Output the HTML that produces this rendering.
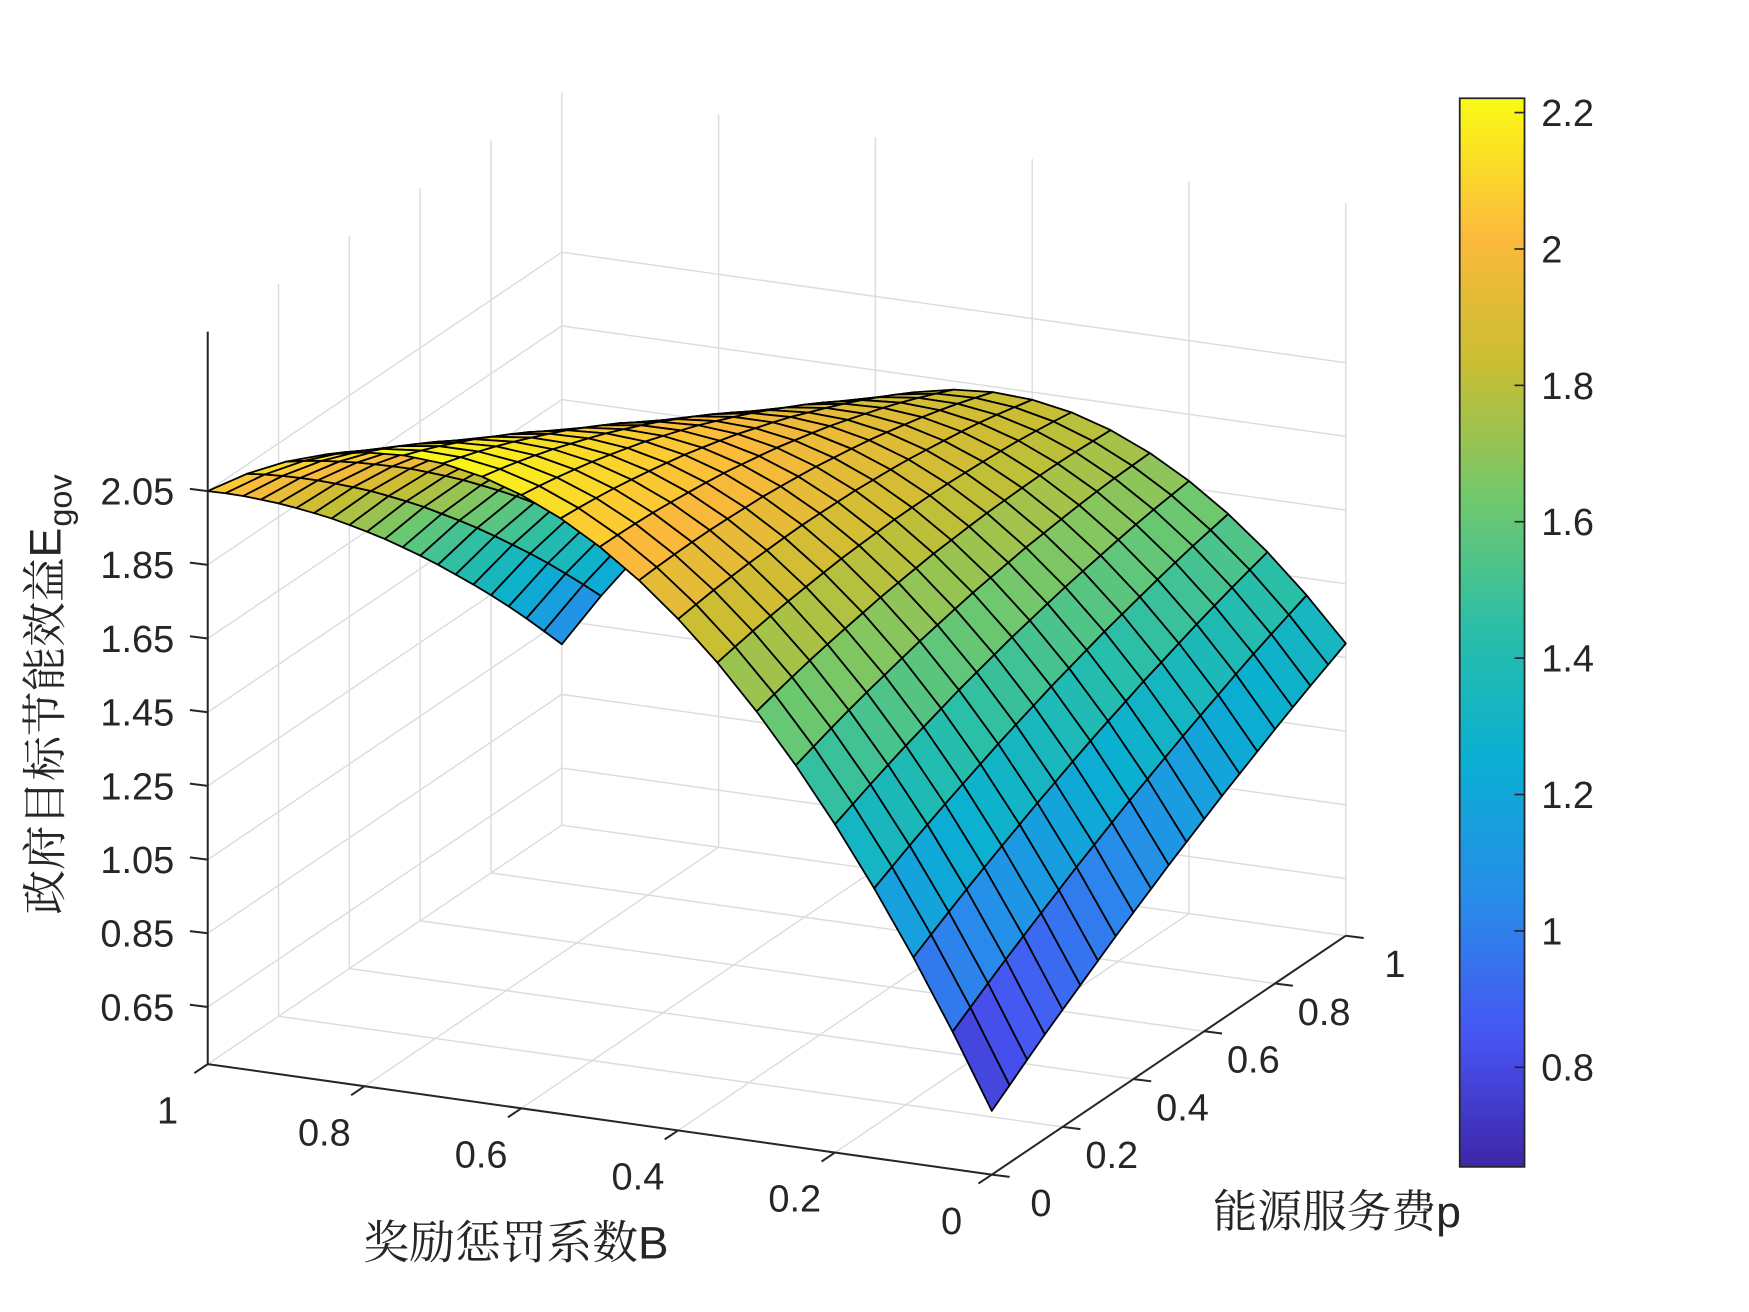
<!DOCTYPE html>
<html><head><meta charset="utf-8">
<style>
html,body{margin:0;padding:0;background:#fff;}
svg{display:block;}
.num{font-family:"Liberation Sans",Arial,sans-serif;fill:#262626;}
.cjk{font-family:"Liberation Sans","Noto Serif CJK SC","Noto Sans CJK SC",serif;fill:#262626;}
</style></head>
<body>
<svg id="chart" width="1749" height="1312" viewBox="0 0 1566 1175" preserveAspectRatio="none" xmlns="http://www.w3.org/2000/svg">
  <defs>
    <linearGradient id="parula" x1="0" y1="1" x2="0" y2="0">
      <stop offset="0" stop-color="rgb(62,38,168)"/>
      <stop offset="0.12" stop-color="rgb(71,84,243)"/>
      <stop offset="0.25" stop-color="rgb(40,140,235)"/>
      <stop offset="0.38" stop-color="rgb(10,175,210)"/>
      <stop offset="0.5" stop-color="rgb(40,190,170)"/>
      <stop offset="0.62" stop-color="rgb(110,200,110)"/>
      <stop offset="0.75" stop-color="rgb(200,190,50)"/>
      <stop offset="0.87" stop-color="rgb(252,185,60)"/>
      <stop offset="1" stop-color="rgb(249,251,21)"/>
    </linearGradient>
  </defs>
  <g id="grid"></g>
  <g id="surf"></g>
  <g id="axes"></g>
  <g id="cbar"></g>
  <text class="cjk" x="462" y="1127" font-size="41" text-anchor="middle">奖励惩罚系数B</text>
  <text class="cjk" x="1197" y="1099" font-size="40" text-anchor="middle">能源服务费p</text>
  <text class="cjk" transform="translate(54,622) rotate(-90)" font-size="40" text-anchor="middle">政府目标节能效益E<tspan font-size="29" dy="10" dx="1" font-family="Liberation Sans">gov</tspan></text>
</svg>
<script>
// ---- data ----
const bVals = [0,0.05,0.1,0.15,0.2,0.25,0.3,0.35,0.4,0.45,0.5,0.55,0.6,0.65,0.7,0.75,0.8,0.85,0.9,0.95,1];
const pVals = [0,0.05,0.1,0.15,0.2,0.25,0.3,0.35,0.4,0.45,0.5,0.55,0.6,0.65,0.7,0.75,0.8,0.85,0.9,0.95,1];
const baseAtB0 = [0.668,0.705,0.742,0.778,0.813,0.847,0.881,0.915,0.947,0.979,1.011,1.041,1.071,1.101,1.129,1.157,1.185,1.212,1.238,1.263,1.288];
const slopeB = [4.142,4.067,3.990,3.912,3.834,3.755,3.675,3.594,3.512,3.429,3.345,3.260,3.175,3.088,3.001,2.913,2.824,2.734,2.643,2.551,2.458];
const curvB = [-2.76];
const xTicks = [0,0.2,0.4,0.6,0.8,1];
const xTickLabels = ["0","0.2","0.4","0.6","0.8","1"];
const yTicks = [0,0.2,0.4,0.6,0.8,1];
const yTickLabels = ["0","0.2","0.4","0.6","0.8","1"];
const zTicks = [0.65,0.85,1.05,1.25,1.45,1.65,1.85,2.05];
const zTickLabels = ["0.65","0.85","1.05","1.25","1.45","1.65","1.85","2.05"];
const cbTicks = [0.8,1,1.2,1.4,1.6,1.8,2,2.2];
const cbTickLabels = ["0.8","1","1.2","1.4","1.6","1.8","2","2.2"];
const zLim = [0.495,2.483];
const cLim = [0.654,2.221];

const NS="http://www.w3.org/2000/svg";
function mk(tag,attrs,parent){const e=document.createElementNS(NS,tag);for(const k in attrs)e.setAttribute(k,attrs[k]);parent.appendChild(e);return e;}
function proj(B,p,z){return [888-702*B+317*p, 1052-99*B-214*p-330*(z-zLim[0])];}
function closeness(B,p,z){return -0.1046*B-0.2317*p+0.1816*z;}
const stops=[[0,62,38,168],[0.12,71,84,243],[0.25,40,140,235],[0.38,10,175,210],[0.5,40,190,170],[0.62,110,200,110],[0.75,200,190,50],[0.87,252,185,60],[1,249,251,21]];
function cmap(v){let t=(v-cLim[0])/(cLim[1]-cLim[0]);t=Math.max(0,Math.min(1,t));
  for(let i=1;i<stops.length;i++){if(t<=stops[i][0]){const a=stops[i-1],b=stops[i],f=(t-a[0])/(b[0]-a[0]);
    return `rgb(${Math.round(a[1]+f*(b[1]-a[1]))},${Math.round(a[2]+f*(b[2]-a[2]))},${Math.round(a[3]+f*(b[3]-a[3]))})`;}}
  return "rgb(249,251,21)";}

const Z=bVals.map(B=>pVals.map((p,j)=>baseAtB0[j]+slopeB[j]*B+curvB[0]*B*B));

const grid=document.getElementById('grid');
function gl(a,b,name){const P=proj(...a),Q=proj(...b);
  const l=mk('line',{x1:P[0],y1:P[1],x2:Q[0],y2:Q[1],stroke:'#dcdcdc','stroke-width':1.3},grid);
  
  }
xTicks.forEach(B=>{gl([B,0,zLim[0]],[B,1,zLim[0]],'floor-gridline-b');gl([B,1,zLim[0]],[B,1,zLim[1]],'wall-gridline-b');});
yTicks.forEach(p=>{gl([0,p,zLim[0]],[1,p,zLim[0]],'floor-gridline-p');gl([1,p,zLim[0]],[1,p,zLim[1]],'wall-gridline-p');});
zTicks.forEach(z=>{gl([0,1,z],[1,1,z],'back-wall-gridline-z');gl([1,0,z],[1,1,z],'side-wall-gridline-z');});

const surf=document.getElementById('surf');
const quads=[];
for(let i=0;i<bVals.length-1;i++)for(let j=0;j<pVals.length-1;j++){
  const c=[[i,j],[i+1,j],[i+1,j+1],[i,j+1]];
  let zs=0,cl=0;c.forEach(([a,b])=>{zs+=Z[a][b];cl+=closeness(bVals[a],pVals[b],Z[a][b]);});
  quads.push({c,zm:zs/4,cl:cl/4});}
quads.sort((a,b)=>a.cl-b.cl);
quads.forEach(q=>{const pts=q.c.map(([a,b])=>proj(bVals[a],pVals[b],Z[a][b]).map(v=>v.toFixed(1)).join(',')).join(' ');
  const e=mk('polygon',{points:pts,fill:cmap(q.zm),stroke:'#000','stroke-width':1.6,'stroke-linejoin':'round'},surf);
  
  });

const ax=document.getElementById('axes');
function al(P,Q,name){const l=mk('line',{x1:P[0],y1:P[1],x2:Q[0],y2:Q[1],stroke:'#262626','stroke-width':1.8},ax);
  
  }
function tx(x,y,s,anchor,name){const t=mk('text',{x:x,y:y,'font-size':34,'text-anchor':anchor,class:'num'},ax);t.textContent=s;
  
  }
al(proj(0,0,zLim[0]),proj(1,0,zLim[0]),'x-axis-line');
al(proj(0,0,zLim[0]),proj(0,1,zLim[0]),'y-axis-line');
al(proj(1,0,zLim[0]),proj(1,0,zLim[1]),'z-axis-line');
xTicks.forEach((B,k)=>{const P=proj(B,0,zLim[0]);al(P,[P[0]-12,P[1]+8],'x-tick');tx(P[0]-36,P[1]+53,xTickLabels[k],'middle','x-tick-label');});
yTicks.forEach((p,k)=>{const P=proj(0,p,zLim[0]);al(P,[P[0]+16,P[1]+2],'y-tick');tx(P[0]+44,P[1]+37,yTickLabels[k],'middle','y-tick-label');});
zTicks.forEach((z,k)=>{const P=proj(1,0,z);al(P,[P[0]-16,P[1]-2],'z-tick');tx(P[0]-30,P[1]+12,zTickLabels[k],'end','z-tick-label');});

const cb=document.getElementById('cbar');
const cx0=1307,cx1=1365,cy0=88,cy1=1045;
const r=mk('rect',{x:cx0,y:cy0,width:cx1-cx0,height:cy1-cy0,fill:'url(#parula)',stroke:'#262626','stroke-width':1.6},cb);


function cy(v){return cy1-(v-cLim[0])/(cLim[1]-cLim[0])*(cy1-cy0);}
cbTicks.forEach((v,k)=>{const y=cy(v);
  const l=mk('line',{x1:cx1,y1:y,x2:cx1-9,y2:y,stroke:'#262626','stroke-width':1.5},cb);
  
  
  const t=mk('text',{x:cx1+15,y:y+12,'font-size':34,class:'num'},cb);t.textContent=cbTickLabels[k];
  
  });
</script>
</body></html>
